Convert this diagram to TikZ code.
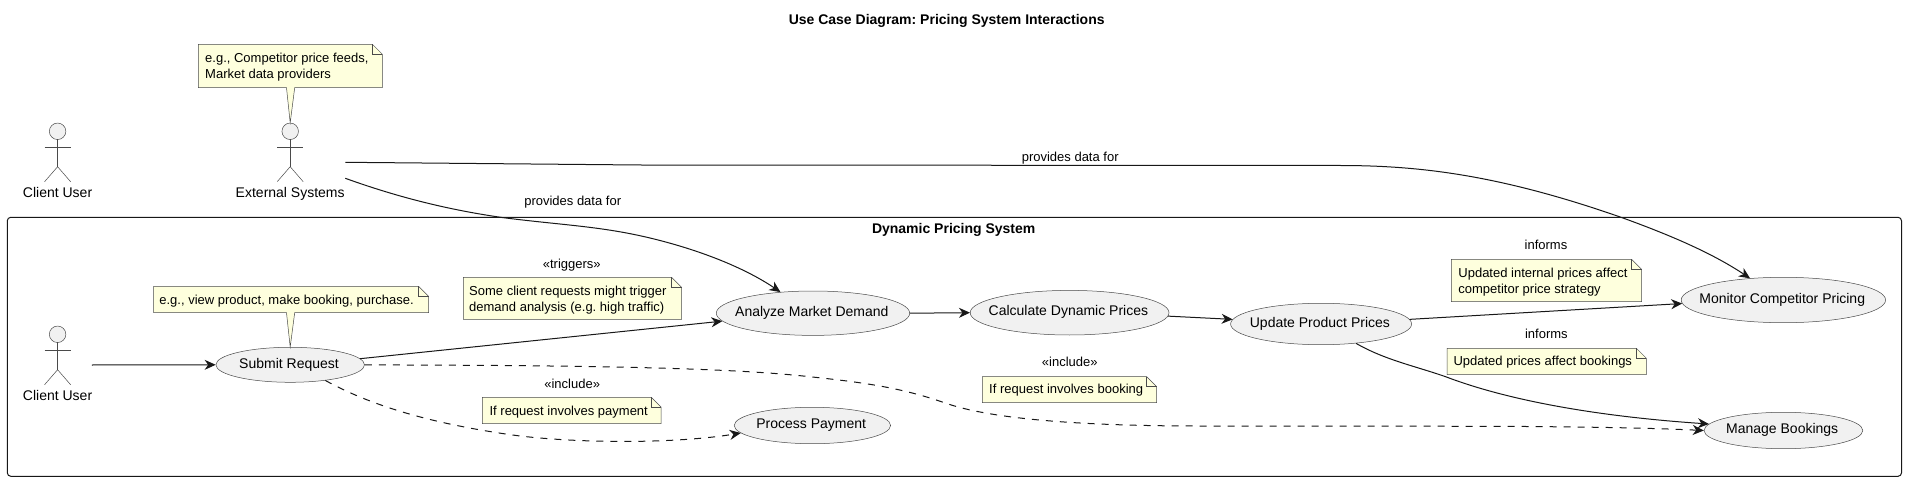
\documentclass[tikz,border=0pt]{standalone}
\usepackage{fontspec}
\setmainfont[Kerning=Off,Ligatures=NoCommon]{Liberation Sans}
\usetikzlibrary{arrows.meta,shapes.geometric}
\frenchspacing
\definecolor{ink}{HTML}{181818}
\definecolor{thinink}{HTML}{4A4A4A}
\definecolor{ucfill}{HTML}{F1F1F1}
\definecolor{notefill}{HTML}{FEFFDD}
\newcommand\ucx[1]{\makebox[0pt][c]{\hspace*{-2.4pt}#1}}
\newcommand\actorbody[2]{%
  \draw[thinline] (#1,#2+8) -- (#1,#2+35.4);
  \draw[thinline] (#1-13,#2+15.7) -- (#1+13,#2+15.7);
  \draw[thinline] (#1-13,#2+50.4) -- (#1,#2+35.4) -- (#1+13,#2+50.4);
}
\newcommand\notebody[5]{% x1 y1 x2 y2 tail
  \draw[thinline,fill=notefill] (#1,#2) -- (#3-10,#2) -- (#3,#2+10) -- (#3,#4) -- #5 -- (#1,#4) -- cycle;
  \draw[thinline] (#3-10,#2) -- (#3-10,#2+10) -- (#3,#2+10);
}
\tikzset{
  x=1pt,y=-1pt,
  thinline/.style={draw=thinink,line width=.5pt},
  usecase/.style={ellipse,draw=thinink,line width=.5pt,fill=ucfill,inner sep=0pt,font=\fontsize{14}{16}\selectfont,execute at begin node=\strut},
  lab14/.style={inner sep=0pt,font=\fontsize{14}{16}\selectfont,execute at begin node=\strut},
  lab13/.style={inner sep=0pt,font=\fontsize{13}{16}\selectfont,execute at begin node=\strut},
  boldlab/.style={inner sep=0pt,font=\fontsize{14}{16}\selectfont\bfseries,execute at begin node=\strut},
  notetext/.style={inner sep=0pt,anchor=west,align=left,font=\fontsize{13}{16}\selectfont},
  actorhead/.style={circle,draw=thinink,line width=.5pt,fill=ucfill,inner sep=0pt,minimum size=16.5pt},
  conn/.style={draw=ink,line width=1pt,-{Stealth[length=11pt,width=10pt,inset=3.5pt]}},
  dashconn/.style={conn,dash pattern=on 7pt off 7pt},
}
\begin{document}
\begin{tikzpicture}
\fill[white] (0,0) rectangle (1906,481);
\useasboundingbox (0,0) rectangle (1906,481);
% system box
\draw[draw=ink,line width=1pt,rounded corners=3.5pt] (7.3,217.3) rectangle (1901.5,476.3);
\node[boldlab] (title) at (946.7,21.3) {Use Case Diagram: Pricing System Interactions};
\node[boldlab] (systitle) at (953.7,230.3) {Dynamic Pricing System};
% actors
\node[actorhead] (clientHead) at (57.6,131.3) {};
\actorbody{57.6}{131.3}
\node[lab14] (clientLab) at (57.6,194.3) {Client User};
\node[actorhead] (extHead) at (290.2,131.3) {};
\actorbody{290.2}{131.3}
\node[lab14] (extLab) at (290.2,194.3) {External Systems};
\node[actorhead] (innerHead) at (57.6,334.3) {};
\actorbody{57.6}{334.3}
\node[lab14] (innerLab) at (57.6,397.3) {Client User};
\coordinate (extOutA) at (345.3,162.3);
\coordinate (extOutB) at (345.3,178.3);
\coordinate (innerOut) at (91.8,365);
% use cases
\node[usecase,minimum width=148.6pt,minimum height=35pt] (submit) at (290.2,364.8) {\ucx{Submit Request}};
\node[usecase,minimum width=193.4pt,minimum height=44.4pt] (analyze) at (813,313.2) {\ucx{Analyze Market Demand}};
\node[usecase,minimum width=198.8pt,minimum height=44.6pt] (calc) at (1069.6,312.7) {\ucx{Calculate Dynamic Prices}};
\node[usecase,minimum width=181pt,minimum height=41.4pt] (update) at (1321.1,324) {\ucx{Update Product Prices}};
\node[usecase,minimum width=204.4pt,minimum height=45.4pt] (monitor) at (1783.4,300) {\ucx{Monitor Competitor Pricing}};
\node[usecase,minimum width=158.8pt,minimum height=36.4pt] (manage) at (1783.4,430.5) {\ucx{Manage Bookings}};
\node[usecase,minimum width=156.4pt,minimum height=36.4pt] (payment) at (812.4,425.5) {\ucx{Process Payment}};
% notes
\notebody{198.4}{44.3}{382.4}{87.7}{(294.7,87.7) -- (extHead.north) -- (286.5,87.7)}
\node[notetext] (noteExt) at (205,66.7) {e.g., Competitor price feeds,\\Market data providers};
\notebody{153.5}{286.3}{428.6}{312.7}{(294.7,312.7) -- (submit.north) -- (286.5,312.7)}
\node[notetext] (noteSubmit) at (159.2,301) {\strut e.g., view product, make booking, purchase.};
\notebody{463.3}{277.3}{681.6}{319.3}{(681.6,319.3)}
\node[notetext] (noteTrig) at (469,299.7) {Some client requests might trigger\\demand analysis (e.g. high traffic)};
\notebody{482.4}{397.3}{661.2}{423.7}{(661.2,423.7)}
\node[notetext] (notePay) at (489.4,412) {\strut If request involves payment};
\notebody{982.4}{376.7}{1156.7}{402.7}{(1156.7,402.7)}
\node[notetext] (noteBook) at (989,390.7) {\strut If request involves booking};
\notebody{1451.3}{259.3}{1641.5}{301.7}{(1641.5,301.7)}
\node[notetext] (noteInt) at (1458.2,281.7) {Updated internal prices affect\\competitor price strategy};
\notebody{1447.2}{348.3}{1646.4}{374.7}{(1646.4,374.7)}
\node[notetext] (noteUpd) at (1453.3,362.7) {\strut Updated prices affect bookings};
% edge labels
\node[lab13] (lProv1) at (572.7,202) {provides data for};
\node[lab13] (lProv2) at (1070.2,158) {provides data for};
\node[lab13] (lTrig) at (571.8,265) {«triggers»};
\node[lab13] (lInc1) at (572.2,385) {«include»};
\node[lab13] (lInc2) at (1069.8,363.7) {«include»};
\node[lab13] (lInf1) at (1546,246.7) {informs};
\node[lab13] (lInf2) at (1546.4,335.7) {informs};
% connectors
\draw[conn] (innerOut) -- (submit.west);
\draw[conn] (extOutB) .. controls (400,198) and (450,210) .. (502,217.5)
  .. controls (560,225) and (600,226) .. (650,238)
  .. controls (700,250) and (745,268) .. (analyze.147.7);
\draw[conn] (extOutA) -- (640,165) -- (1340,165.5)
  .. controls (1420,165.5) and (1500,175) .. (1621,217.3)
  .. controls (1670,235) and (1712,253) .. (monitor.147);
\draw[conn] (submit.5.2) -- (analyze.185.4);
\draw[conn] (analyze.east) -- (calc.west);
\draw[conn] (calc.-2.7) -- (update.177.4);
\draw[conn] (update.3) -- (monitor.182.7);
\draw[conn] (update.-29) .. controls (1385,360) and (1415,366) .. (1445.6,376.7)
  .. controls (1520,405) and (1620,418) .. (manage.175.8);
\draw[dashconn] (submit.east) .. controls (480,365.5) and (700,365) .. (803,376)
  .. controls (860,382) and (900,387) .. (946,403.3)
  .. controls (980,415) and (1050,426) .. (1200,426)
  -- (1500,426.3) .. controls (1600,427) and (1650,428) .. (manage.west);
\draw[dashconn] (submit.-24.3) .. controls (370,405) and (430,424) .. (520,436)
  .. controls (590,444) and (680,443) .. (payment.186.7);
\end{tikzpicture}
\end{document}
